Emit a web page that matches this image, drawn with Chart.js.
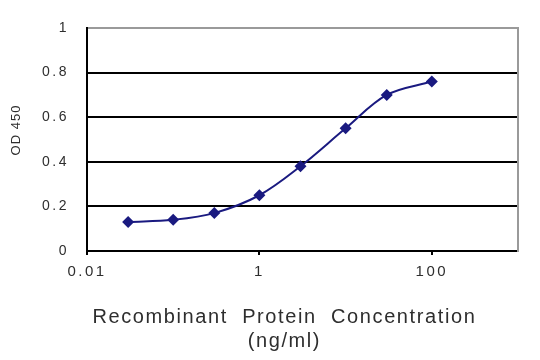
<!DOCTYPE html>
<html>
<head>
<meta charset="utf-8">
<script src="https://cdn.jsdelivr.net/npm/chart.js@4"></script>
<style>
  body { margin: 0; background: #fff; }
  #wrap { width: 540px; height: 360px; }
</style>
</head>
<body>
<div id="wrap"><canvas id="odChart" width="540" height="360"></canvas></div>
<script>
// half-log dilution series
const concentrations = [0.03, 0.1, 0.3, 1, 3, 10, 30, 100];
const od450 = [0.13, 0.14, 0.17, 0.25, 0.38, 0.55, 0.70, 0.76];

const xTicks = [0.01, 1, 100];
const yTicks = [0, 0.2, 0.4, 0.6, 0.8, 1];
const xTitle = ['Recombinant  Protein  Concentration', '(ng/ml)'];
const yTitle = 'OD 450';

const NAVY = '#1a1a80';
const TEXT = '#2e2e2e';
const FONT = '"Liberation Sans", Arial, sans-serif';

// axis captions sit a bit off the plot centre in the original, so draw them here
const captions = {
  id: 'captions',
  afterDraw(chart) {
    const { ctx, chartArea } = chart;
    ctx.save();
    ctx.fillStyle = TEXT;
    ctx.textAlign = 'center';
    ctx.textBaseline = 'middle';
    ctx.font = '20px ' + FONT;
    ctx.letterSpacing = '1.6px';
    const cx = chartArea.left + (chartArea.right - chartArea.left) * 0.458;
    ctx.fillText(xTitle[0], cx, 317);
    ctx.fillText(xTitle[1], cx, 341);
    ctx.font = '13px ' + FONT;
    ctx.letterSpacing = '1px';
    ctx.translate(16, 130);
    ctx.rotate(-Math.PI / 2);
    ctx.fillText(yTitle, 0, 0);
    ctx.restore();
  }
};

const spacing = {
  id: 'spacing',
  beforeDraw(chart) { chart.ctx.letterSpacing = '2.5px'; }
};

const ctx = document.getElementById('odChart').getContext('2d');
new Chart(ctx, {
  type: 'line',
  data: {
    datasets: [{
      data: concentrations.map((c, i) => ({ x: c, y: od450[i] })),
      borderColor: NAVY,
      backgroundColor: NAVY,
      borderWidth: 2,
      tension: 0.35,
      pointStyle: 'rectRot',
      pointRadius: 6,
      pointBorderWidth: 0,
      pointHoverRadius: 6
    }]
  },
  options: {
    responsive: false,
    animation: false,
    layout: { padding: { top: 28, right: 22, left: 0, bottom: 0 } },
    plugins: {
      legend: { display: false },
      tooltip: { enabled: false }
    },
    scales: {
      x: {
        type: 'logarithmic',
        min: 0.01,
        max: 1000,
        afterBuildTicks: s => { s.ticks = xTicks.map(v => ({ value: v })); },
        afterFit: s => { s.height = 109; },
        ticks: {
          color: TEXT,
          font: { family: FONT, size: 15 },
          padding: 8,
          maxRotation: 0,
          autoSkip: false,
          callback: v => String(v)
        },
        grid: { drawOnChartArea: false, drawTicks: true, tickLength: 4, color: '#000', lineWidth: 2 },
        border: { color: '#000', width: 2 }
      },
      y: {
        min: 0,
        max: 1,
        afterBuildTicks: s => { s.ticks = yTicks.map(v => ({ value: v })); },
        afterFit: s => { s.width = 87; },
        ticks: {
          color: TEXT,
          font: { family: FONT, size: 14 },
          padding: 18,
          callback: v => v === 0 || v === 1 ? String(v) : v.toFixed(1)
        },
        grid: {
          drawTicks: false,
          lineWidth: 2,
          color: c => (c.tick && c.tick.value === 1 ? '#9a9a9a' : '#000')
        },
        border: { color: '#000', width: 2 }
      },
      yRight: {
        position: 'right',
        min: 0,
        max: 1,
        afterFit: s => { s.width = 0; },
        ticks: { display: false },
        grid: { drawOnChartArea: false, drawTicks: false },
        border: { color: '#9a9a9a', width: 2 }
      }
    }
  },
  plugins: [spacing, captions]
});
</script>
</body>
</html>
